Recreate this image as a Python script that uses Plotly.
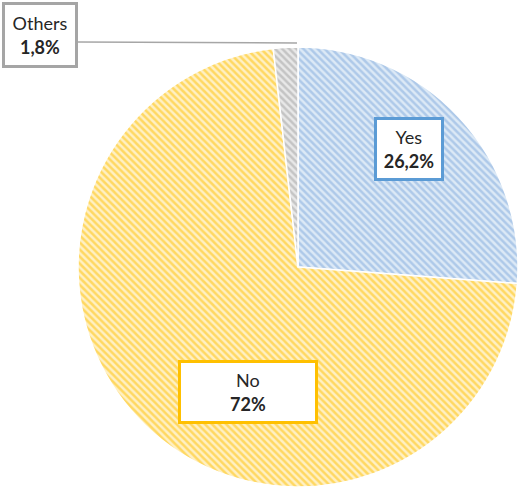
import plotly.graph_objects as go

# Survey answers and their shares (%)
labels = ["Yes", "No", "Others"]
shares = [26.2, 72.0, 1.8]

bg_colors = ["#dce9f6", "#fff0c4", "#e8e8e8"]
fg_colors = ["#7fa9dc", "#ffc000", "#a0a0a0"]
border_colors = ["#5b9bd5", "#ffc000", "#a5a5a5"]

W, H = 518, 492


def fmt(v):
    s = f"{v:g}"
    return s.replace(".", ",") + "%"


fig = go.Figure(
    go.Pie(
        labels=labels,
        values=shares,
        sort=False,
        direction="clockwise",
        rotation=0,
        textinfo="none",
        hoverinfo="label+percent",
        marker=dict(
            colors=bg_colors,
            line=dict(color="white", width=1.5),
            pattern=dict(
                shape="\\",
                fgcolor=fg_colors,
                bgcolor=bg_colors,
                size=5,
                solidity=0.5,
                fillmode="overlay",
            ),
        ),
        domain=dict(x=[78 / W, 1.0], y=[(H - 490) / H, (H - 44) / H]),
        showlegend=False,
    )
)

# Label boxes: centre (px), box width/height (px)
boxes = {
    "Yes": (409, 149, 64, 58),
    "No": (248, 392, 134, 58),
    "Others": (40, 35, 70, 60),
}

for lab, val, bc in zip(labels, shares, border_colors):
    cx, cy, bw, bh = boxes[lab]
    fig.add_annotation(
        x=cx / W,
        y=1 - cy / H,
        xref="paper",
        yref="paper",
        xanchor="center",
        yanchor="middle",
        text=f"{lab}<br><b>{fmt(val)}</b>",
        showarrow=False,
        font=dict(family="Lato, Noto Sans, sans-serif", size=18, color="#262626"),
        bgcolor="white",
        bordercolor=bc,
        borderwidth=3,
        borderpad=0,
        width=bw,
        height=bh,
        align="center",
    )

# Leader line from the "Others" box to its slice
fig.add_shape(
    type="line",
    xref="paper",
    yref="paper",
    x0=78 / W,
    y0=1 - 42 / H,
    x1=297 / W,
    y1=1 - 43 / H,
    line=dict(color="#a6a6a6", width=1.5),
    layer="below",
)

fig.update_layout(
    width=W,
    height=H,
    margin=dict(l=0, r=0, t=0, b=0),
    paper_bgcolor="white",
    plot_bgcolor="white",
)

fig.write_html("out.html")
